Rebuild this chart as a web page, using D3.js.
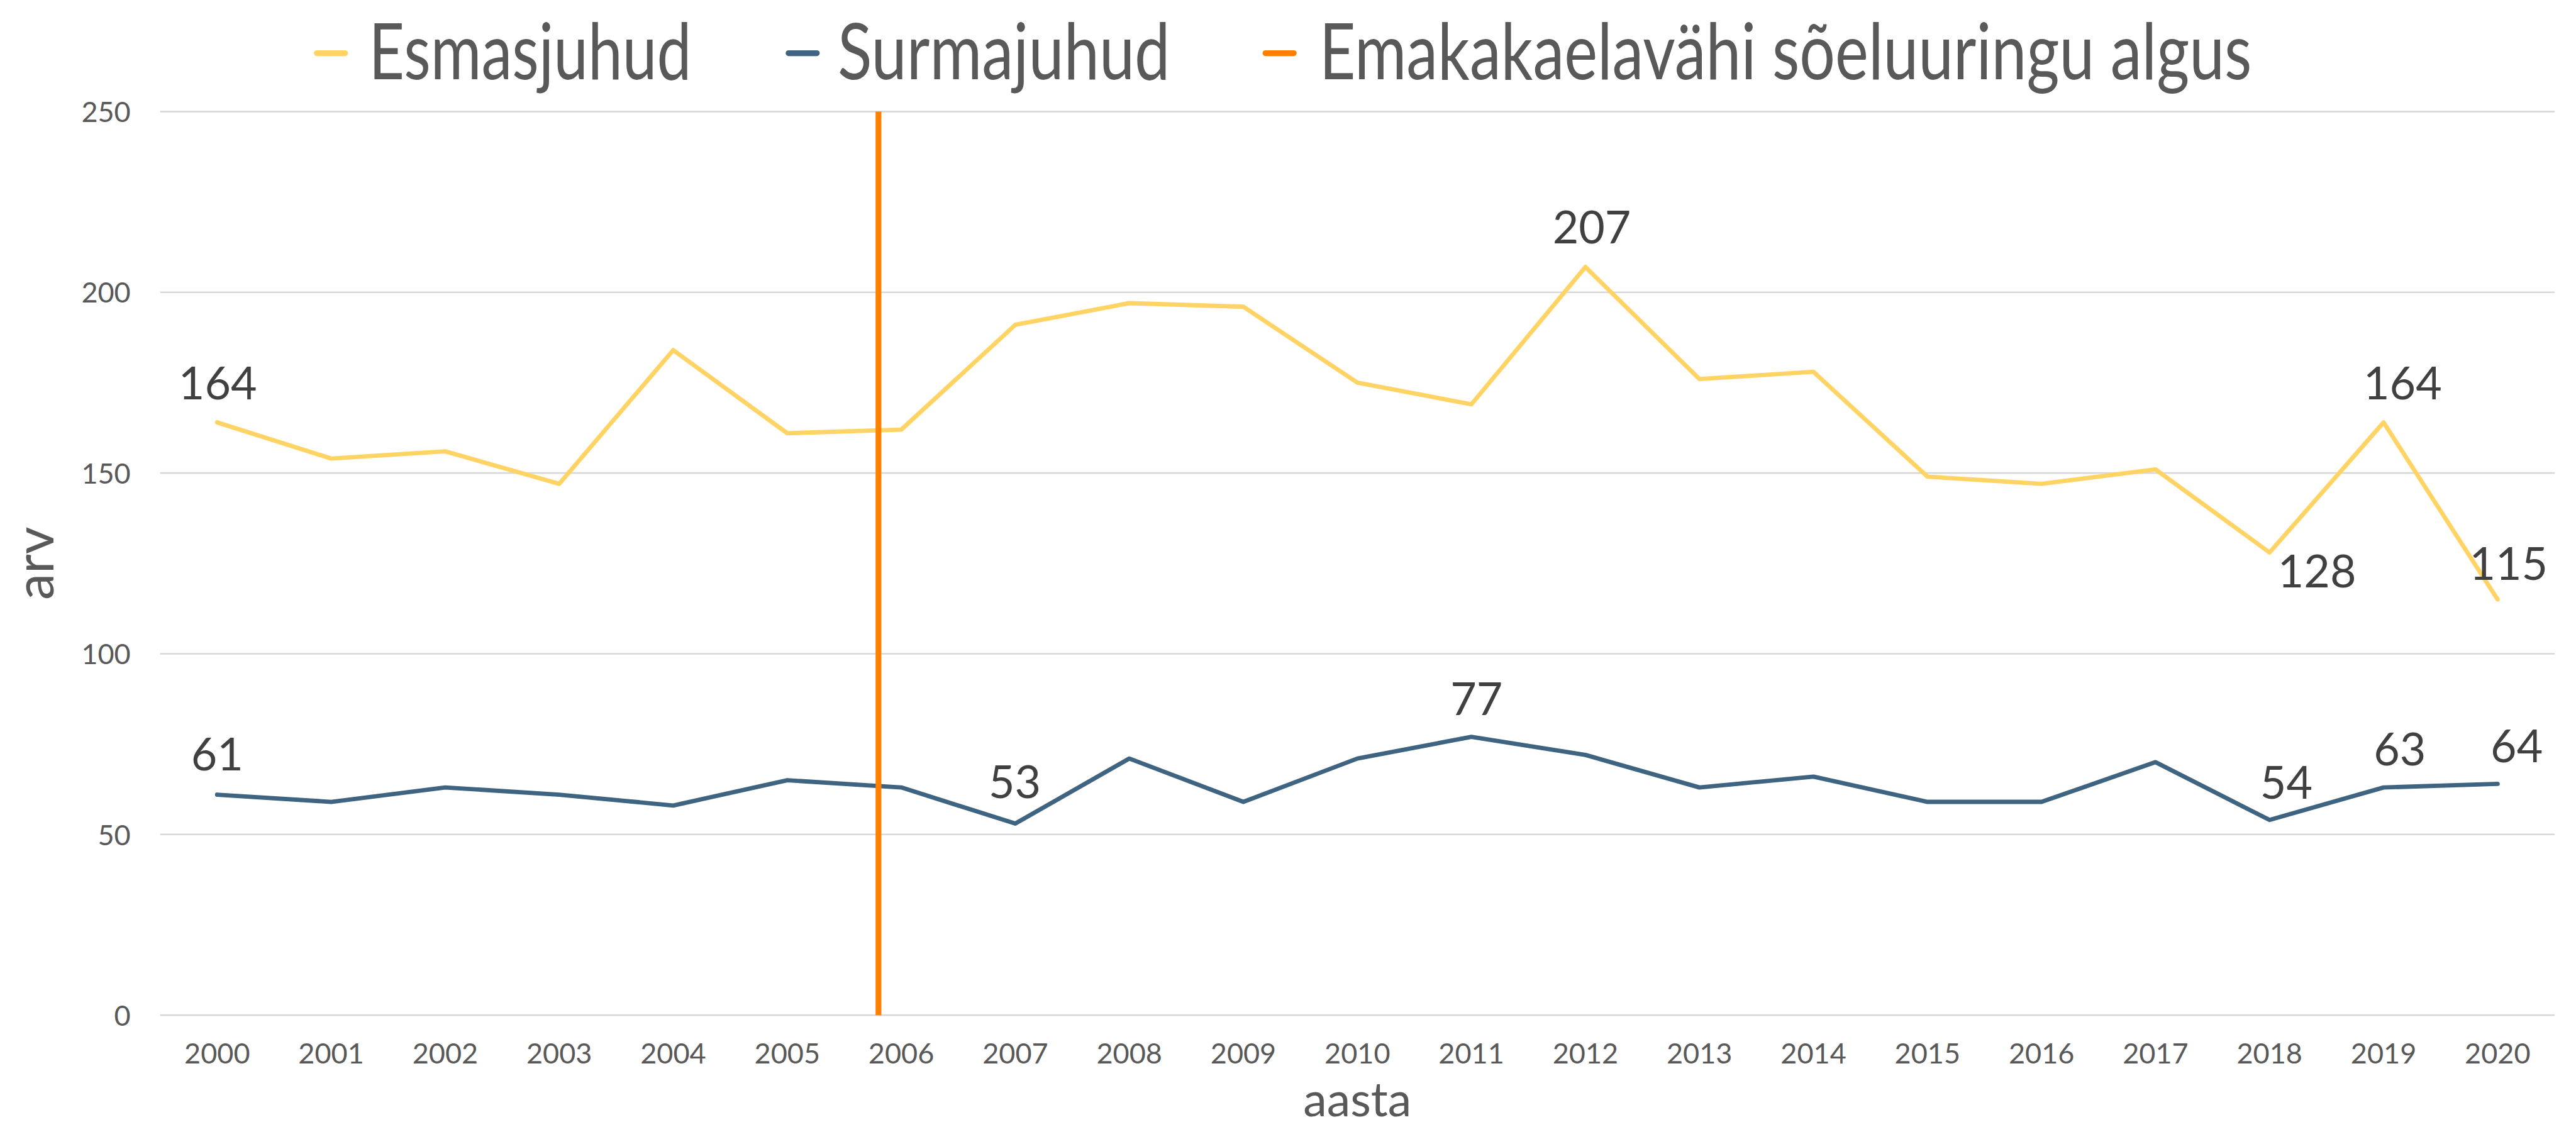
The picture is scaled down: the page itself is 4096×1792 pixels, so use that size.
<!DOCTYPE html>
<html>
<head>
<meta charset="utf-8">
<script src="https://cdn.jsdelivr.net/npm/d3@7"></script>
<style>
  html, body { margin: 0; padding: 0; background: #fff; }
  svg { display: block; font-family: Lato, "Open Sans", sans-serif; }
</style>
</head>
<body>
<svg width="4096" height="1792"></svg>
<script>
// data
const years = [2000, 2001, 2002, 2003, 2004, 2005, 2006, 2007, 2008, 2009, 2010,
               2011, 2012, 2013, 2014, 2015, 2016, 2017, 2018, 2019, 2020];
const esmasjuhud = [164, 154, 156, 147, 184, 161, 162, 191, 197, 196, 175,
                    169, 207, 176, 178, 149, 147, 151, 128, 164, 115];
const surmajuhud = [61, 59, 63, 61, 58, 65, 63, 53, 71, 59, 71,
                    77, 72, 63, 66, 59, 59, 70, 54, 63, 64];
const yTicks = [0, 50, 100, 150, 200, 250];
const screeningStart = 2005.8;   // where the orange marker sits on the year axis
const esmasLabelYears = [2000, 2012, 2018, 2019, 2020];
const surmaLabelYears = [2000, 2007, 2011, 2018, 2019, 2020];
const seriesNames = ["Esmasjuhud", "Surmajuhud", "Emakakaelavähi sõeluuringu algus"];

// everything below is measured in reference pixels and scaled by S
const S = 4096 / 4456;
const svg = d3.select("svg");
const plot = {left: 277, right: 4419, top: 193, bottom: 1756};
const colors = {esmas: "#FFD465", surma: "#3E6481", start: "#FF8000"};

const x = d3.scaleBand().domain(years).range([plot.left * S, plot.right * S]);
const xYear = d3.scaleLinear()
  .domain([years[0], years[years.length - 1]])
  .range([x(years[0]) + x.bandwidth() / 2, x(years[years.length - 1]) + x.bandwidth() / 2]);
const y = d3.scaleLinear().domain([0, 250]).range([plot.bottom * S, plot.top * S]);

// gridlines
svg.append("g")
  .selectAll("line")
  .data(yTicks)
  .join("line")
  .attr("x1", plot.left * S)
  .attr("x2", plot.right * S)
  .attr("y1", d => y(d))
  .attr("y2", d => y(d))
  .attr("stroke", "#D9D9D9")
  .attr("stroke-width", 2.8 * S);

// y axis labels
const yAxis = svg.append("g")
  .attr("transform", `translate(${plot.left * S},0)`)
  .call(d3.axisLeft(y).tickValues(yTicks).tickSize(0).tickPadding(51 * S));
yAxis.select(".domain").remove();
yAxis.selectAll("text")
  .attr("font-family", "Lato")
  .attr("font-size", 49 * S)
  .attr("fill", "#595959")
  .attr("dy", "0.36em");

// x axis labels
const xAxis = svg.append("g")
  .attr("transform", `translate(0,${plot.bottom * S})`)
  .call(d3.axisBottom(x).tickSize(0).tickPadding(49 * S));
xAxis.select(".domain").remove();
xAxis.selectAll("text")
  .attr("font-family", "Lato")
  .attr("font-size", 49 * S)
  .attr("fill", "#595959")
  .attr("dy", "0.71em");

// axis titles
svg.append("text")
  .attr("transform", `translate(${92 * S},${(plot.top + plot.bottom) / 2 * S}) rotate(-90)`)
  .attr("text-anchor", "middle")
  .attr("font-size", 92 * S)
  .attr("fill", "#595959")
  .text("arv");

svg.append("text")
  .attr("x", (plot.left + plot.right) / 2 * S)
  .attr("y", 1931 * S)
  .attr("text-anchor", "middle")
  .attr("font-size", 82 * S)
  .attr("fill", "#595959")
  .text("aasta");

// series lines
const line = d3.line()
  .x((d, i) => x(years[i]) + x.bandwidth() / 2)
  .y(d => y(d));

[[esmasjuhud, colors.esmas], [surmajuhud, colors.surma]].forEach(([values, color]) => {
  svg.append("path")
    .datum(values)
    .attr("fill", "none")
    .attr("stroke", color)
    .attr("stroke-width", 7.5 * S)
    .attr("stroke-linejoin", "round")
    .attr("stroke-linecap", "round")
    .attr("d", line);
});

// screening start marker
svg.append("line")
  .attr("x1", xYear(screeningStart))
  .attr("x2", xYear(screeningStart))
  .attr("y1", y(250))
  .attr("y2", y(0))
  .attr("stroke", colors.start)
  .attr("stroke-width", 10 * S);

// data labels (offsets from the point, reference px)
const esmasPlacement = {
  2000: {dx: 1, dy: -40}, 2012: {dx: 11, dy: -41}, 2018: {dx: 82, dy: 60},
  2019: {dx: 33, dy: -40}, 2020: {dx: 19, dy: -34}
};
const surmaPlacement = {
  2000: {dx: 0, dy: -42}, 2007: {dx: -1, dy: -44}, 2011: {dx: 9, dy: -38},
  2018: {dx: 29, dy: -37}, 2019: {dx: 28, dy: -38}, 2020: {dx: 33, dy: -37}
};

function addLabels(labelYears, values, placement) {
  svg.append("g")
    .selectAll("text")
    .data(labelYears)
    .join("text")
    .attr("x", yr => x(yr) + x.bandwidth() / 2 + placement[yr].dx * S)
    .attr("y", yr => y(values[years.indexOf(yr)]) + placement[yr].dy * S)
    .attr("text-anchor", "middle")
    .attr("font-size", 78 * S)
    .attr("fill", "#404040")
    .text(yr => values[years.indexOf(yr)]);
}
addLabels(esmasLabelYears, esmasjuhud, esmasPlacement);
addLabels(surmaLabelYears, surmajuhud, surmaPlacement);

// legend
const legendItems = [
  {name: seriesNames[0], color: colors.esmas, sx: 543, tx: 638, tw: 558},
  {name: seriesNames[1], color: colors.surma, sx: 1359, tx: 1449, tw: 575},
  {name: seriesNames[2], color: colors.start, sx: 2184, tx: 2282, tw: 1613}
];
const legend = svg.append("g");
legendItems.forEach(item => {
  legend.append("line")
    .attr("x1", (item.sx + 5) * S)
    .attr("x2", (item.sx + 54) * S)
    .attr("y1", 92 * S)
    .attr("y2", 92 * S)
    .attr("stroke", item.color)
    .attr("stroke-width", 10 * S)
    .attr("stroke-linecap", "round");
  legend.append("text")
    .attr("x", item.tx * S)
    .attr("y", 137 * S)
    .attr("font-size", 136 * S)
    .attr("fill", "#595959")
    .attr("textLength", item.tw * S)
    .attr("lengthAdjust", "spacingAndGlyphs")
    .text(item.name);
});
</script>
</body>
</html>
